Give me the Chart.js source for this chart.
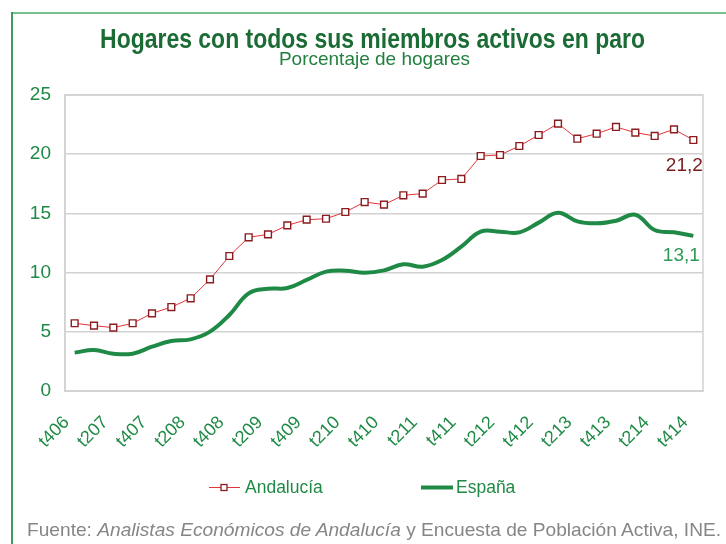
<!DOCTYPE html>
<html><head><meta charset="utf-8">
<script src="https://cdn.jsdelivr.net/npm/chart.js@4"></script>
<style>
html,body{margin:0;padding:0;background:#fff;}
#wrap{position:relative;width:726px;height:544px;overflow:hidden;background:#fff;}
#c{position:absolute;left:0;top:0;}
#frameTop{position:absolute;left:11px;top:12px;width:715px;height:0;border-top:2px solid #78c08c;}
#frameLeft{position:absolute;left:11px;top:12px;width:0;height:532px;border-left:2px solid #3f9d5a;}
#foot{position:absolute;left:27px;top:519px;font-family:"Liberation Sans",Arial,sans-serif;font-size:19.15px;line-height:22px;color:#868686;white-space:nowrap;}
</style>
</head><body>
<div id="wrap">
<canvas id="c" width="726" height="544"></canvas>
<div id="frameTop"></div><div id="frameLeft"></div>
<div id="foot">Fuente: <i>Analistas Económicos de Andalucía</i> y Encuesta de Población Activa, INE.</div>
</div>
<script>
const categories = ["t406","t107","t207","t307","t407","t108","t208","t308","t408","t109","t209","t309","t409","t110","t210","t310","t410","t111","t211","t311","t411","t112","t212","t312","t412","t113","t213","t313","t413","t114","t214","t314","t414"];
const andalucia = [5.72,5.52,5.35,5.72,6.56,7.09,7.83,9.43,11.40,12.98,13.23,13.99,14.47,14.55,15.12,15.96,15.74,16.53,16.67,17.82,17.91,19.85,19.93,20.69,21.62,22.58,21.31,21.73,22.30,21.82,21.54,22.10,21.2];
const espana = [3.24,3.46,3.15,3.15,3.74,4.22,4.36,5.01,6.42,8.25,8.64,8.70,9.38,10.08,10.16,9.99,10.19,10.70,10.50,11.06,12.19,13.46,13.46,13.40,14.22,15.06,14.33,14.16,14.38,14.89,13.60,13.40,13.1];
const seriesNames = ["Andalucía","España"];
const yTicks = [0,5,10,15,20,25];
const titleText = 'Hogares con todos sus miembros activos en paro';
const subtitleText = 'Porcentaje de hogares';

const GREEN = '#1f8a46';
const FONT = '"Liberation Sans", Arial, sans-serif';

const titles = {
  id:'titles',
  afterDraw(chart){
    const ctx = chart.ctx;
    ctx.save();
    ctx.translate(372.5, 47.5);
    ctx.scale(0.835, 1);
    ctx.font = 'bold 27.5px ' + FONT;
    ctx.fillStyle = '#1b6b35';
    ctx.textAlign = 'center'; ctx.textBaseline = 'alphabetic';
    ctx.fillText(titleText, 0, 0);
    ctx.restore();
    ctx.save();
    ctx.font = '19px ' + FONT;
    ctx.fillStyle = '#22803f';
    ctx.textAlign = 'center'; ctx.textBaseline = 'alphabetic';
    ctx.fillText(subtitleText, 374.5, 65);
    ctx.restore();
  }
};
const plotFrame = {
  id:'plotFrame',
  beforeDatasetsDraw(chart){
    const a = chart.chartArea, ctx = chart.ctx;
    ctx.save(); ctx.strokeStyle = '#d2d2d2'; ctx.lineWidth = 1.5;
    ctx.strokeRect(a.left, a.top, a.right-a.left, a.bottom-a.top);
    ctx.restore();
  }
};
const endLabels = {
  id:'endLabels',
  afterDatasetsDraw(chart){
    const ctx = chart.ctx;
    const cfg = [{dx:-9,dy:26,color:'#7a1c1f'},{dx:-12,dy:20,color:'#2e9a55'}];
    chart.data.datasets.forEach((ds,i)=>{
      const meta = chart.getDatasetMeta(i);
      const pt = meta.data[meta.data.length-1];
      const v = ds.data[ds.data.length-1];
      ctx.save();
      ctx.font = '19px ' + FONT; ctx.fillStyle = cfg[i].color;
      ctx.textAlign = 'center'; ctx.textBaseline = 'middle';
      ctx.fillText(v.toFixed(1).replace('.',','), pt.x+cfg[i].dx, pt.y+cfg[i].dy);
      ctx.restore();
    });
  }
};
const customLegend = {
  id:'customLegend',
  afterDraw(chart){
    const ctx = chart.ctx, y = 487.5;
    ctx.save();
    ctx.strokeStyle = '#e3343a'; ctx.lineWidth = 1;
    ctx.beginPath(); ctx.moveTo(209,y); ctx.lineTo(240,y); ctx.stroke();
    ctx.fillStyle = '#fff'; ctx.strokeStyle = '#8b1c1f'; ctx.lineWidth = 1.3;
    ctx.fillRect(221,y-3,6,6); ctx.strokeRect(221,y-3,6,6);
    ctx.strokeStyle = GREEN; ctx.lineWidth = 4;
    ctx.beginPath(); ctx.moveTo(421,y); ctx.lineTo(453,y); ctx.stroke();
    ctx.font = '17.5px ' + FONT; ctx.fillStyle = GREEN; ctx.textBaseline = 'middle';
    ctx.fillText(seriesNames[0], 245, y+0.5);
    ctx.fillText(seriesNames[1], 456, y+0.5);
    ctx.restore();
  }
};

new Chart(document.getElementById('c'), {
  type:'line',
  data:{
    labels: categories,
    datasets:[
      {label:seriesNames[0], data:andalucia, borderColor:'#e3343a', borderWidth:1,
       pointStyle:'rect', pointRadius:4.8, pointBackgroundColor:'#fff', pointBorderColor:'#8b1c1f', pointBorderWidth:1.4,
       tension:0, order:1},
      {label:seriesNames[1], data:espana, borderColor:GREEN, borderWidth:4, pointRadius:0,
       tension:0.4, cubicInterpolationMode:'default', order:2}
    ]
  },
  options:{
    responsive:false, animation:false, devicePixelRatio:1,
    layout:{padding:{left:20,right:23,top:95,bottom:93}},
    plugins:{
      legend:{display:false},
      tooltip:{enabled:false},
      title:{display:false},
      subtitle:{display:false}
    },
    scales:{
      x:{
        offset:true,
        grid:{display:false, drawTicks:false},
        border:{display:true, color:'#d2d2d2', width:1.5},
        ticks:{autoSkip:false, maxRotation:45, minRotation:45, padding:21, labelOffset:-8,
          color:GREEN, font:{family:FONT, size:18},
          callback:(v,i)=> i%2===0 ? categories[i] : ''},
        afterFit:(s)=>{ s.height = 60; s.paddingLeft = 0; s.paddingRight = 0; }
      },
      y:{
        min:0, max:25,
        afterBuildTicks:(s)=>{ s.ticks = yTicks.map(v=>({value:v})); },
        grid:{color:'#d2d2d2', lineWidth:1.5, drawTicks:false},
        border:{display:true, color:'#d2d2d2', width:1.5},
        ticks:{color:GREEN, padding:14, font:{family:FONT, size:19}},
        afterFit:(s)=>{ s.width = 45; }
      }
    }
  },
  plugins:[titles, plotFrame, endLabels, customLegend]
});
</script>
</body></html>
